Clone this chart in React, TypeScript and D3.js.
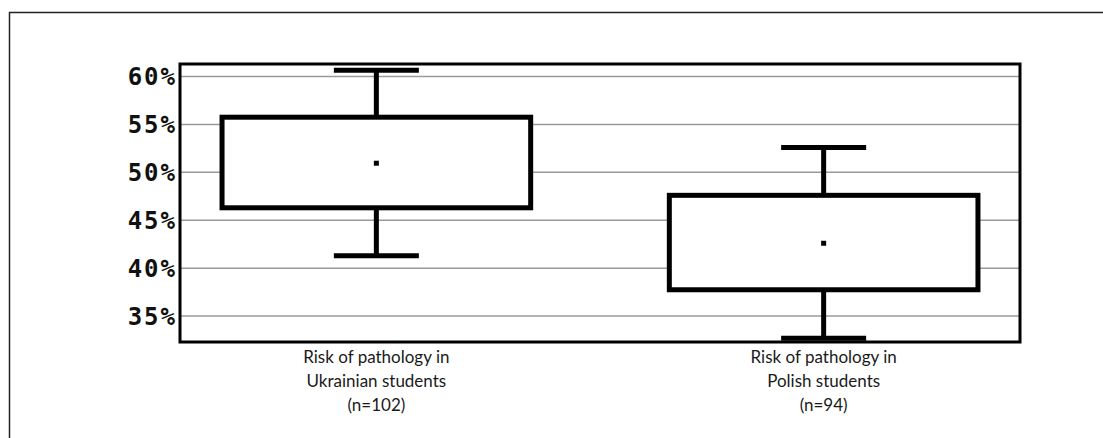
import React, { useEffect, useRef } from 'react';
import * as d3 from 'd3';

// Box plot summaries (percent)
const groups = ['Ukrainian', 'Polish'];
const labelLines = [
  ['Risk of pathology in', 'Ukrainian students', '(n=102)'],
  ['Risk of pathology in', 'Polish students', '(n=94)'],
];
const whiskerHigh = [60.65, 52.6];
const boxHigh = [55.75, 47.6];
const means = [50.95, 42.6];
const boxLow = [46.3, 37.75];
const whiskerLow = [41.3, 32.7];
const yTicks = [35, 40, 45, 50, 55, 60];

export default function App() {
  const ref = useRef<SVGSVGElement>(null);

  useEffect(() => {
    if (!ref.current) return;
    const svg = d3.select(ref.current);
    svg.selectAll('*').remove();

    const width = 1103;
    const height = 438;
    const plot = { left: 180, right: 1020, top: 64, bottom: 342 };

    // outer frame (runs off the right and bottom of the picture)
    svg.append('rect')
      .attr('x', 9.5).attr('y', 12.5)
      .attr('width', 1300).attr('height', 600)
      .attr('fill', 'none')
      .attr('stroke', '#222')
      .attr('stroke-width', 1.5);

    const y = d3.scaleLinear().domain([32.3, 61.3]).range([plot.bottom, plot.top]);
    const x = d3.scaleBand<string>()
      .domain(groups)
      .range([plot.left, plot.right])
      .paddingInner(0.31)
      .paddingOuter(0.094);

    // grid lines
    svg.append('g')
      .selectAll('line')
      .data(yTicks)
      .enter()
      .append('line')
      .attr('x1', plot.left).attr('x2', plot.right)
      .attr('y1', d => y(d)).attr('y2', d => y(d))
      .attr('stroke', '#9a9a9a')
      .attr('stroke-width', 1.5);

    // tick labels
    svg.append('g')
      .selectAll('text')
      .data(yTicks)
      .enter()
      .append('text')
      .attr('x', 177)
      .attr('y', d => y(d))
      .attr('dy', '0.37em')
      .attr('text-anchor', 'end')
      .attr('font-family', '"DejaVu Sans Mono", monospace')
      .attr('font-weight', 'bold')
      .attr('font-size', 24)
      .attr('letter-spacing', 2)
      .attr('fill', '#111')
      .text(d => `${d}%`);

    const capW = 85;
    groups.forEach((g, i) => {
      const cx = (x(g) || 0) + x.bandwidth() / 2;
      const grp = svg.append('g');
      // whiskers
      grp.append('line')
        .attr('x1', cx).attr('x2', cx)
        .attr('y1', y(whiskerHigh[i])).attr('y2', y(whiskerLow[i]))
        .attr('stroke', '#000').attr('stroke-width', 5);
      [whiskerHigh[i], whiskerLow[i]].forEach(v => {
        grp.append('line')
          .attr('x1', cx - capW / 2).attr('x2', cx + capW / 2)
          .attr('y1', y(v)).attr('y2', y(v))
          .attr('stroke', '#000').attr('stroke-width', 5);
      });
      // box
      grp.append('rect')
        .attr('x', x(g) || 0)
        .attr('y', y(boxHigh[i]))
        .attr('width', x.bandwidth())
        .attr('height', y(boxLow[i]) - y(boxHigh[i]))
        .attr('fill', '#fff')
        .attr('stroke', '#000')
        .attr('stroke-width', 5);
      // mean marker
      grp.append('rect')
        .attr('x', cx - 2.5).attr('y', y(means[i]) - 2.5)
        .attr('width', 5).attr('height', 5)
        .attr('fill', '#000');
      // category label
      const t = svg.append('text')
        .attr('text-anchor', 'middle')
        .attr('font-family', 'Lato, sans-serif')
        .attr('font-size', 17)
        .attr('fill', '#1a1a1a');
      labelLines[i].forEach((line, k) => {
        t.append('tspan')
          .attr('x', cx)
          .attr('y', 363 + k * 24)
          .text(line);
      });
    });

    // plot frame on top
    svg.append('rect')
      .attr('x', plot.left).attr('y', plot.top)
      .attr('width', plot.right - plot.left)
      .attr('height', plot.bottom - plot.top)
      .attr('fill', 'none')
      .attr('stroke', '#000')
      .attr('stroke-width', 3);

    svg.attr('width', width).attr('height', height);
  }, []);

  return (
    <svg
      ref={ref}
      width={1103}
      height={438}
      style={{ position: 'absolute', left: 0, top: 0, background: '#fff', display: 'block' }}
    />
  );
}
